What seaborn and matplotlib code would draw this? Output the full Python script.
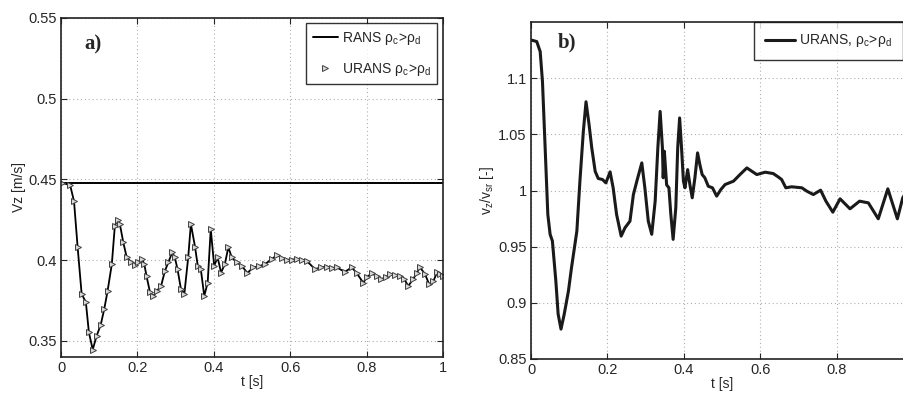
import matplotlib
matplotlib.use("Agg")
import matplotlib.pyplot as plt
import seaborn as sns
import numpy as np

# panel a) RANS level and URANS velocity trace
rans_vz = 0.448
t_a = [0.003, 0.024, 0.034, 0.0435, 0.054, 0.065, 0.073, 0.083, 0.093, 0.104,
       0.113, 0.122, 0.133, 0.141, 0.148, 0.154, 0.163, 0.172, 0.183, 0.194,
       0.202, 0.211, 0.218, 0.224, 0.233, 0.242, 0.251, 0.262, 0.272, 0.281,
       0.291, 0.298, 0.305, 0.314, 0.323, 0.333, 0.340, 0.351, 0.358, 0.366,
       0.375, 0.384, 0.392, 0.401, 0.410, 0.419, 0.429, 0.438, 0.447, 0.460,
       0.473, 0.488, 0.503, 0.518, 0.534, 0.552, 0.565, 0.578, 0.591, 0.604,
       0.617, 0.630, 0.643, 0.665, 0.680, 0.696, 0.709, 0.722, 0.743, 0.761,
       0.774, 0.791, 0.802, 0.813, 0.826, 0.839, 0.850, 0.861, 0.874, 0.887,
       0.898, 0.909, 0.922, 0.931, 0.940, 0.953, 0.964, 0.975, 0.985, 0.993, 1.0]
vz_a = [0.448, 0.4463, 0.4365, 0.408, 0.379, 0.374, 0.3552, 0.3446, 0.3529, 0.360,
        0.3695, 0.381, 0.3975, 0.4214, 0.425, 0.4224, 0.411, 0.4017, 0.399, 0.397,
        0.3986, 0.401, 0.3975, 0.390, 0.380, 0.3778, 0.381, 0.384, 0.3933, 0.3986,
        0.4048, 0.4017, 0.3944, 0.382, 0.3793, 0.4017, 0.4224, 0.408, 0.3965, 0.3944,
        0.3778, 0.3861, 0.4193, 0.3965, 0.4017, 0.3923, 0.3975, 0.408, 0.4017, 0.3986,
        0.3965, 0.392, 0.3955, 0.3962, 0.3975, 0.4006, 0.4031, 0.4015, 0.4002, 0.4003,
        0.4006, 0.4000, 0.3996, 0.3944, 0.3955, 0.396, 0.3952, 0.3955, 0.3927, 0.3955,
        0.392, 0.3861, 0.3895, 0.392, 0.3900, 0.3882, 0.3895, 0.3913, 0.3908, 0.3902,
        0.3885, 0.384, 0.3882, 0.3920, 0.3955, 0.3913, 0.385, 0.387, 0.3927, 0.3915, 0.3902]

# panel b) normalised URANS velocity
t_b = [0.0, 0.015, 0.024, 0.030, 0.037, 0.044, 0.050, 0.056, 0.065, 0.071,
       0.0785, 0.087, 0.098, 0.106, 0.120, 0.128, 0.137, 0.144, 0.152, 0.159,
       0.168, 0.176, 0.187, 0.196, 0.207, 0.215, 0.224, 0.236, 0.246, 0.259,
       0.268, 0.277, 0.290, 0.298, 0.307, 0.316, 0.325, 0.332, 0.338, 0.344,
       0.346, 0.349, 0.355, 0.361, 0.366, 0.372, 0.379, 0.384, 0.389, 0.394,
       0.399, 0.403, 0.410, 0.416, 0.422, 0.429, 0.436, 0.442, 0.448, 0.455,
       0.464, 0.475, 0.486, 0.497, 0.508, 0.530, 0.547, 0.565, 0.591, 0.613,
       0.634, 0.647, 0.656, 0.667, 0.682, 0.709, 0.722, 0.739, 0.758, 0.772,
       0.790, 0.809, 0.835, 0.860, 0.883, 0.909, 0.934, 0.959, 0.973, 0.985]
vr_b = [1.134, 1.1326, 1.1237, 1.097, 1.038, 0.9787, 0.961, 0.955, 0.9195, 0.890,
        0.8766, 0.890, 0.9106, 0.9313, 0.9638, 1.0083, 1.0527, 1.079, 1.0586, 1.038,
        1.017, 1.0107, 1.0098, 1.0068, 1.0166, 1.0024, 0.9787, 0.9594, 0.9668, 0.9727,
        0.9964, 1.0083, 1.0246, 1.0024, 0.9727, 0.961, 0.9905, 1.038, 1.0704, 1.038,
        1.0113, 1.035, 1.005, 1.0024, 0.9787, 0.9565, 0.9846, 1.038, 1.0646, 1.038,
        1.0083, 1.0024, 1.0186, 1.005, 0.9935, 1.0113, 1.0335, 1.023, 1.0142, 1.0113,
        1.0038, 1.0024, 0.995, 1.0009, 1.0053, 1.0083, 1.0142, 1.0201, 1.0142, 1.0163,
        1.0151, 1.0121, 1.0098, 1.0024, 1.0033, 1.0024, 0.9994, 0.9964, 1.0003, 0.9905,
        0.9807, 0.9926, 0.9837, 0.9905, 0.989, 0.9748, 1.0015, 0.9748, 0.9935, 1.0]

sns.set_style("ticks")
plt.rcParams['font.family'] = ['Liberation Sans', 'DejaVu Sans']
plt.rcParams['mathtext.fontset'] = 'custom'
plt.rcParams['mathtext.rm'] = 'Liberation Sans'
plt.rcParams['mathtext.it'] = 'Liberation Sans:italic'

fig = plt.figure(figsize=(9.04, 3.98), dpi=100)
ax1 = fig.add_axes([0.0675, 0.103, 0.4225, 0.852])
ax2 = fig.add_axes([0.5874, 0.098, 0.4226, 0.8467])

grid_kw = dict(color='#b0b0b0', linestyle=(0, (1, 2.5)), linewidth=0.8)

# ---- a)
ax1.axhline(rans_vz, color='black', lw=1.4, label=r'RANS $\mathregular{\rho_c\!>\!\rho_d}$')
sns.lineplot(x=t_a, y=vz_a, ax=ax1, color='black', lw=1.3, legend=False)
ax1.plot(t_a, vz_a, linestyle='none', marker='>', markersize=5, mfc='#d8d8d8',
         mec='#404040', mew=0.7, label=r'URANS $\mathregular{\rho_c\!>\!\rho_d}$')
ax1.set_xlim(0, 1)
ax1.set_ylim(0.34, 0.55)
ax1.set_xticks([0, 0.2, 0.4, 0.6, 0.8, 1])
ax1.set_xticklabels(['0', '0.2', '0.4', '0.6', '0.8', '1'])
ax1.set_yticks([0.35, 0.4, 0.45, 0.5, 0.55])
ax1.set_yticklabels(['0.35', '0.4', '0.45', '0.5', '0.55'])
ax1.set_xlabel('t [s]', fontsize=10, labelpad=0)
ax1.set_ylabel('Vz [m/s]', fontsize=10, labelpad=2)
ax1.text(0.084, 0.923, 'a)', transform=ax1.transAxes, fontsize=15, fontweight='bold',
         family='Liberation Serif', ha='center', va='center')
leg1 = ax1.legend(loc='upper right', fontsize=10, frameon=True, fancybox=False,
                  edgecolor='black', borderaxespad=0.4, handlelength=1.8,
                  handletextpad=0.3, borderpad=0.45, labelspacing=1.0)
leg1.get_frame().set_linewidth(1.0)

# ---- b)
sns.lineplot(x=t_b, y=vr_b, ax=ax2, color='#1a1a1a', lw=2.2,
             label=r'URANS, $\mathregular{\rho_c\!>\!\rho_d}$')
ax2.set_xlim(0, 1)
ax2.set_ylim(0.85, 1.15)
ax2.set_xticks([0, 0.2, 0.4, 0.6, 0.8, 1])
ax2.set_xticklabels(['0', '0.2', '0.4', '0.6', '0.8', ''])
ax2.set_yticks([0.85, 0.9, 0.95, 1.0, 1.05, 1.1])
ax2.set_yticklabels(['0.85', '0.9', '0.95', '1', '1.05', '1.1'])
ax2.set_xlabel('t [s]', fontsize=10, labelpad=0)
ax2.set_ylabel(r'$\mathregular{v_z/v_{sr}}$ [-]', fontsize=10, labelpad=2)
ax2.text(0.094, 0.94, 'b)', transform=ax2.transAxes, fontsize=15, fontweight='bold',
         family='Liberation Serif', ha='center', va='center')
leg2 = ax2.legend(loc='upper right', bbox_to_anchor=(0.999, 0.9447),
                  bbox_transform=fig.transFigure, fontsize=10, frameon=True,
                  fancybox=False, edgecolor='black', borderaxespad=0.0,
                  handlelength=2.2, handletextpad=0.3, borderpad=0.75)
leg2.get_frame().set_linewidth(1.0)

for ax in (ax1, ax2):
    ax.grid(True, **grid_kw)
    ax.tick_params(direction='in', top=True, right=True, labelsize=10.5, length=4,
                   width=0.8, pad=3)
    for s in ax.spines.values():
        s.set_linewidth(1.2)
        s.set_color('#222222')

fig.savefig('out.png', dpi=100)
